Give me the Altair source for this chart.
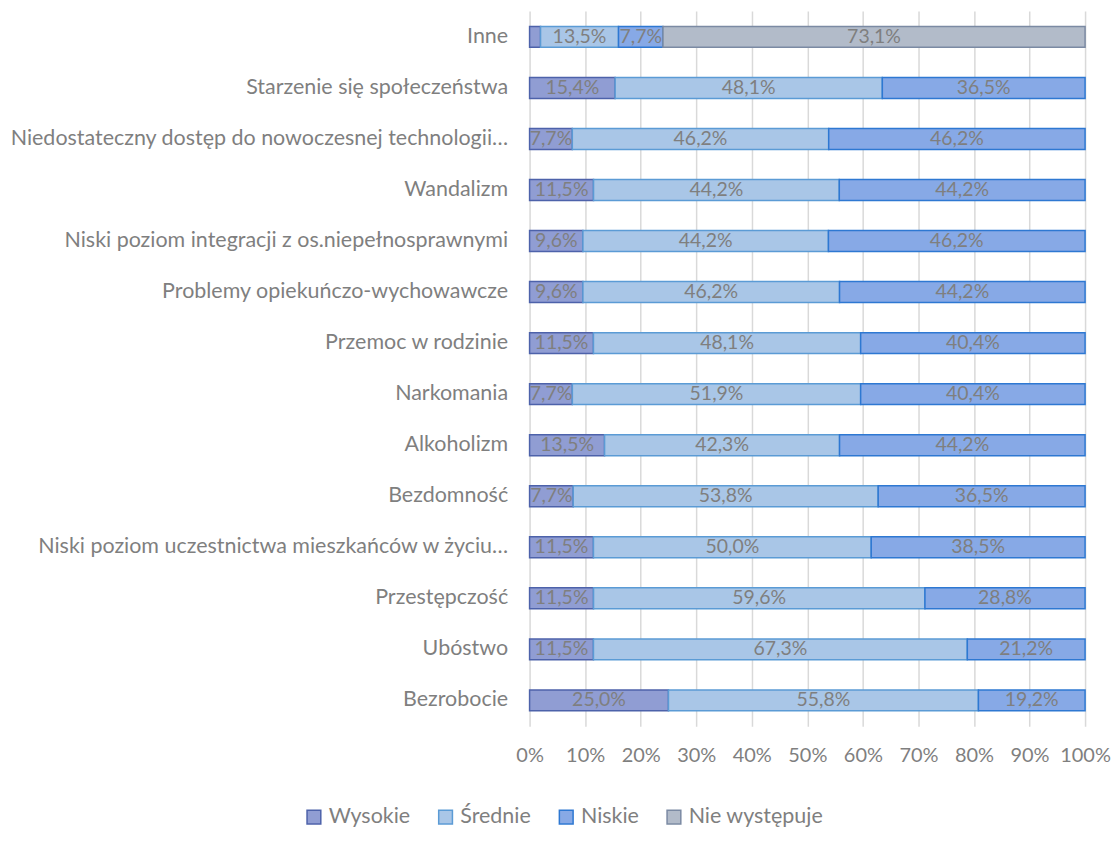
import altair as alt
import pandas as pd

categories = [
    "Inne",
    "Starzenie się społeczeństwa",
    "Niedostateczny dostęp do nowoczesnej technologii…",
    "Wandalizm",
    "Niski poziom integracji z os.niepełnosprawnymi",
    "Problemy opiekuńczo-wychowawcze",
    "Przemoc w rodzinie",
    "Narkomania",
    "Alkoholizm",
    "Bezdomność",
    "Niski poziom uczestnictwa mieszkańców w życiu…",
    "Przestępczość",
    "Ubóstwo",
    "Bezrobocie",
]
series = ["Wysokie", "Średnie", "Niskie", "Nie występuje"]
wysokie = [1.9, 15.4, 7.7, 11.5, 9.6, 9.6, 11.5, 7.7, 13.5, 7.7, 11.5, 11.5, 11.5, 25.0]
srednie = [13.5, 48.1, 46.2, 44.2, 44.2, 46.2, 48.1, 51.9, 42.3, 53.8, 50.0, 59.6, 67.3, 55.8]
niskie = [7.7, 36.5, 46.2, 44.2, 46.2, 44.2, 40.4, 40.4, 44.2, 36.5, 38.5, 28.8, 21.2, 19.2]
nie_wystepuje = [73.1, 0, 0, 0, 0, 0, 0, 0, 0, 0, 0, 0, 0, 0]
hidden_labels = [("Inne", "Wysokie")]

fills = ["#909dd3", "#a9c6e7", "#87a9e6", "#b2bbc9"]
strokes = ["#4d62aa", "#5b9bd5", "#2e78d2", "#7b8aa3"]

rows = []
for s_i, (s, vals) in enumerate(zip(series, [wysokie, srednie, niskie, nie_wystepuje])):
    for c, v in zip(categories, vals):
        if v <= 0:
            continue
        lab = "" if (c, s) in hidden_labels else (f"{v:.1f}".replace(".", ",") + "%")
        rows.append({"cat": c, "series": s, "ord": s_i, "value": v, "label": lab})
df = pd.DataFrame(rows)

FONT = "Lato"
GREY = "#7f7f7f"

base = alt.Chart(df).transform_stack(
    stack="value", groupby=["cat"], sort=[alt.SortField("ord", order="ascending")],
    as_=["x0", "x1"], offset="normalize",
).transform_calculate(mid="(datum.x0 + datum.x1) / 2")

y_enc = alt.Y(
    "cat:N", sort=categories, title=None,
    scale=alt.Scale(paddingInner=0.59, paddingOuter=0.3),
    axis=alt.Axis(labelFont=FONT, labelFontSize=21.5, labelColor=GREY, ticks=False,
                  domain=False, labelPadding=22, labelLimit=600, minExtent=523, maxExtent=523),
)

bars = base.mark_bar(strokeWidth=1.5).encode(
    x=alt.X("x0:Q", title=None,
            scale=alt.Scale(domain=[0, 1], nice=False),
            axis=alt.Axis(format=".0%", values=[i / 10 for i in range(11)], labelFont=FONT,
                          labelFontSize=20, labelColor=GREY, ticks=False, domain=False,
                          grid=True, gridColor="#d9d9d9", gridWidth=1.5, labelPadding=19,
                          labelFlush=False)),
    x2="x1:Q",
    y=y_enc,
    fill=alt.Fill("series:N", scale=alt.Scale(domain=series, range=fills),
                  legend=alt.Legend(title=None, orient="none", legendX=-227, legendY=797,
                                    direction="horizontal",
                                    labelFont=FONT, labelFontSize=21.5, labelColor=GREY,
                                    symbolType="square", symbolSize=190, symbolStrokeWidth=1.5,
                                    columnPadding=24, labelOffset=4)),
    stroke=alt.Stroke("series:N", scale=alt.Scale(domain=series, range=strokes), legend=None),
    order=alt.Order("ord:Q"),
)

texts = base.mark_text(font=FONT, fontSize=19.5, color=GREY, baseline="middle").encode(
    x=alt.X("mid:Q"),
    y=alt.Y("cat:N", sort=categories),
    text="label:N",
)

chart = (bars + texts).properties(
    width=557, height=717,
    padding={"left": 0, "top": 2, "right": 0, "bottom": 0},
).configure_view(stroke=None)

chart.save("out.html", embed_options={"renderer": "svg", "actions": False})
